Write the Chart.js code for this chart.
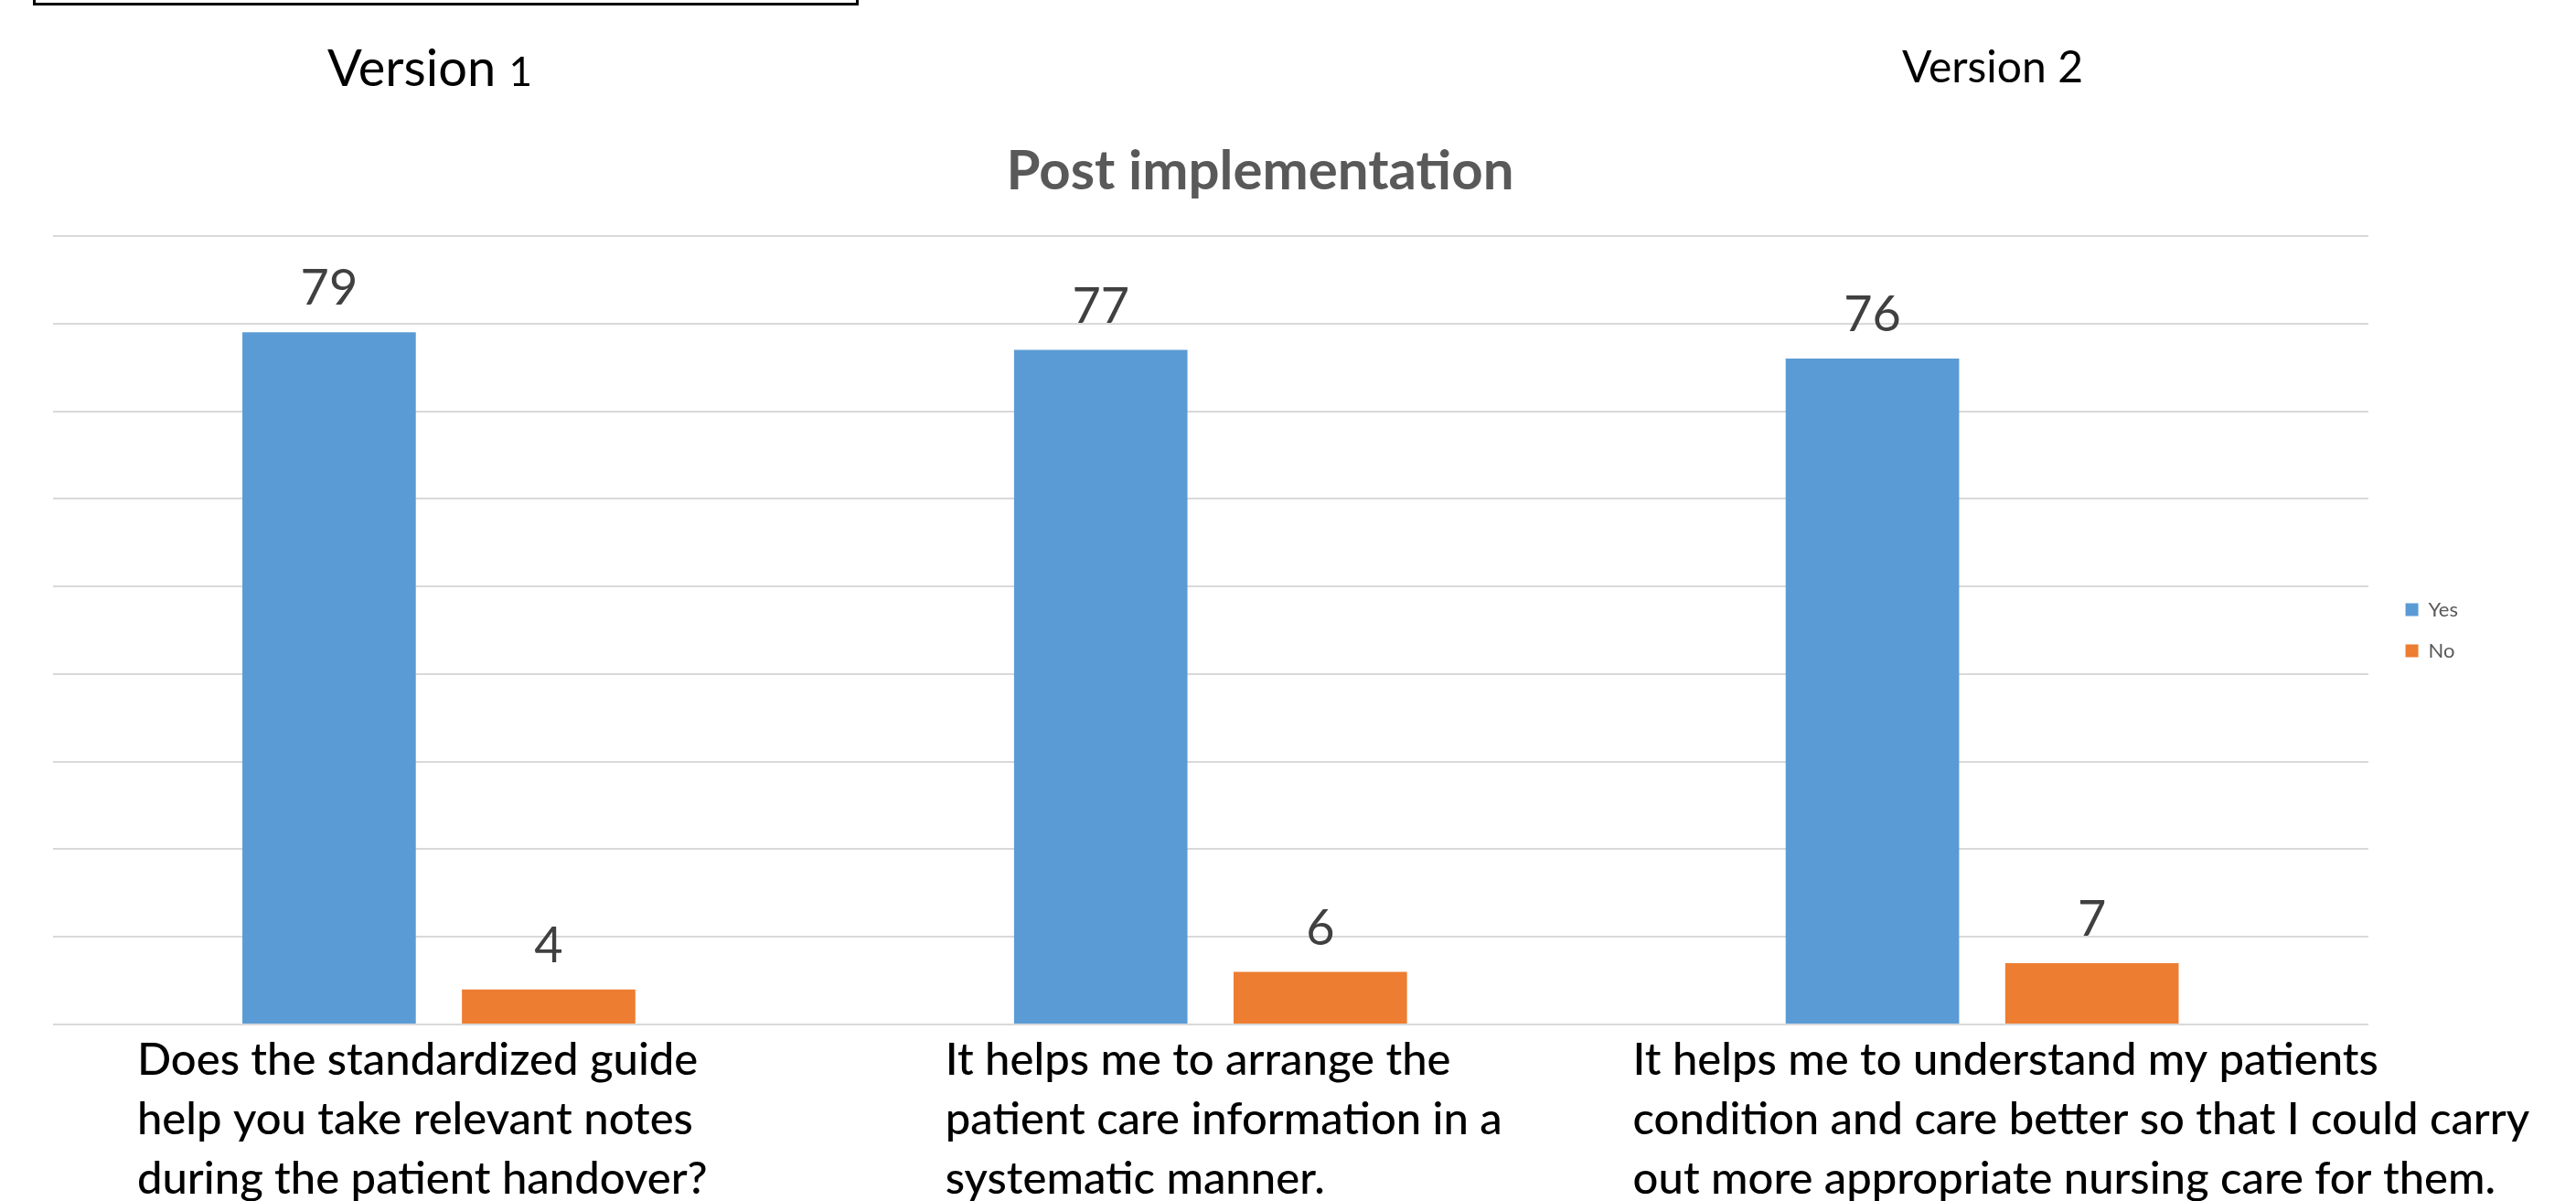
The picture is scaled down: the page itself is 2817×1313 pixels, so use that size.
<!DOCTYPE html>
<html>
<head>
<meta charset="utf-8">
<title>Post implementation</title>
<script src="https://cdn.jsdelivr.net/npm/chart.js@4.4.1/dist/chart.umd.min.js"></script>
<style>
  html, body { margin: 0; padding: 0; background: #fff; }
  #wrap { position: relative; width: 2817px; height: 1313px; overflow: hidden; }
  #chart { display: block; }
  .note { position: absolute; font-family: Lato, "Open Sans", sans-serif; color: #000; line-height: 1; white-space: nowrap; }
  #topBox { position: absolute; left: 36px; top: -100px; width: 897px; height: 100px; border: 3px solid #000; }
</style>
</head>
<body>
<div id="wrap">
  <canvas id="chart" width="2817" height="1313"></canvas>
  <div id="topBox"></div>
  <div class="note" style="left:358px; top:45px; font-size:56px;">Version <span style="font-size:44px;">1</span></div>
  <div class="note" style="left:2080px; top:48px; font-size:48px;">Version 2</div>
</div>
<script>
// datos
const questions = [
  ["Does the standardized guide", "help you take relevant notes", "during the patient handover?"],
  ["It helps me to arrange the", "patient care information in a", "systematic manner."],
  ["It helps me to understand my patients", "condition and care better so that I could carry", "out more appropriate nursing care for them."],
];
const seriesNames = ["Yes", "No"];
const yesValues = [79, 77, 76];
const noValues = [4, 6, 7];
const yMin = 0;
const yMax = 90;
const yStep = 10;

// where each question text box starts, relative to its category centre
const labelShift = [-330, -290, -382];

Chart.defaults.font.family = "Lato, 'Open Sans', sans-serif";

// numbers above the bars
const valueLabels = {
  id: "valueLabels",
  afterDatasetsDraw(chart) {
    const ctx = chart.ctx;
    ctx.save();
    ctx.font = "54px Lato, 'Open Sans', sans-serif";
    ctx.fillStyle = "#404040";
    ctx.textAlign = "center";
    ctx.textBaseline = "alphabetic";
    chart.data.datasets.forEach((ds, i) => {
      chart.getDatasetMeta(i).data.forEach((bar, j) => {
        ctx.fillText(String(ds.data[j]), bar.x, bar.y - 30);
      });
    });
    ctx.restore();
  },
};

// question texts under the axis, left aligned per block
const questionLabels = {
  id: "questionLabels",
  afterDraw(chart) {
    const { ctx, chartArea } = chart;
    const x = chart.scales.x;
    ctx.save();
    ctx.font = "500 49px Lato, 'Open Sans', sans-serif";
    ctx.fillStyle = "#000";
    ctx.textAlign = "left";
    ctx.textBaseline = "alphabetic";
    questions.forEach((lines, i) => {
      const left = x.getPixelForValue(i) + labelShift[i];
      lines.forEach((line, k) => {
        ctx.fillText(line, left, chartArea.bottom + 55 + k * 65);
      });
    });
    ctx.restore();
  },
};

function draw() {
  const el = document.getElementById("chart");
  new Chart(el, {
    type: "bar",
    data: {
      labels: questions.map((q) => q.join(" ")),
      datasets: [
        { label: seriesNames[0], data: yesValues, backgroundColor: "#5B9BD5", borderWidth: 0 },
        { label: seriesNames[1], data: noValues, backgroundColor: "#ED7D31", borderWidth: 0 },
      ],
    },
    options: {
      responsive: false,
      animation: false,
      devicePixelRatio: 1,
      categoryPercentage: 0.569,
      barPercentage: 0.79,
      layout: { padding: { left: 58, right: 119, top: 0, bottom: 185 } },
      plugins: {
        title: {
          display: true,
          text: "Post implementation",
          color: "#595959",
          font: { size: 60, weight: "bold" },
          padding: { top: 152, bottom: 34 },
        },
        legend: {
          position: "right",
          fullSize: false,
          labels: {
            boxWidth: 14,
            boxHeight: 14,
            padding: 23,
            color: "#595959",
            font: { size: 22 },
          },
        },
        tooltip: { enabled: false },
      },
      scales: {
        x: {
          grid: { display: false },
          border: { display: false },
          ticks: { display: false },
        },
        y: {
          position: "right",
          min: yMin,
          max: yMax,
          ticks: { display: false, stepSize: yStep },
          border: { display: false },
          grid: { color: "#d9d9d9", lineWidth: 2, drawTicks: false },
          afterFit: (s) => { s.width = 18; },
        },
      },
    },
    plugins: [valueLabels, questionLabels],
  });
}

if (document.fonts && document.fonts.load) {
  Promise.all([
    document.fonts.load("56px Lato"),
    document.fonts.load("bold 60px Lato"),
    document.fonts.load("500 49px Lato"),
  ]).then(draw, draw);
} else {
  draw();
}
</script>
</body>
</html>
